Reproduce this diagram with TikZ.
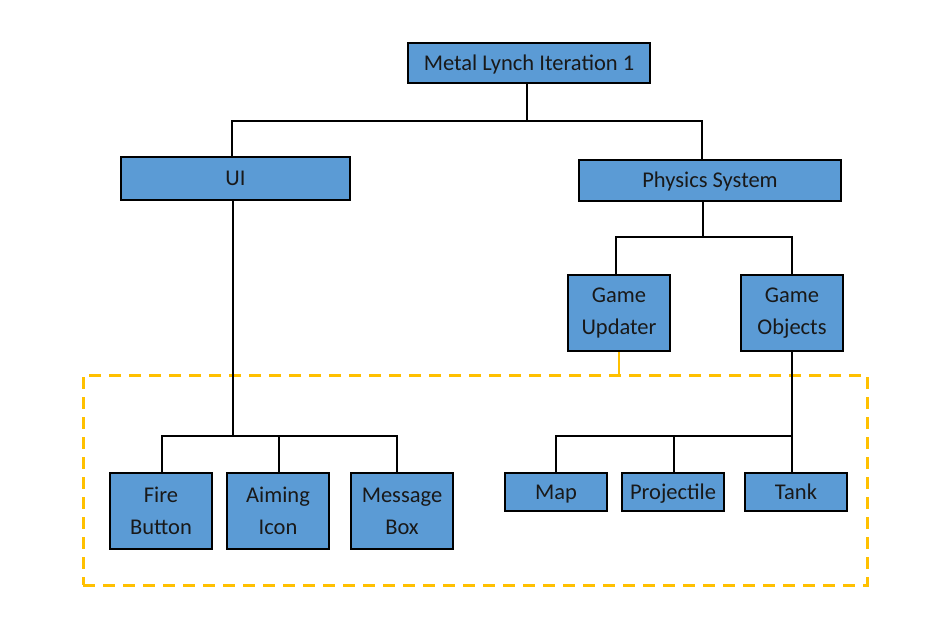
\documentclass[tikz,border=0pt]{standalone}
\usepackage{fontspec}
\setmainfont{Carlito}
\definecolor{boxblue}{HTML}{5B9BD5}
\definecolor{gold}{HTML}{FFC000}
\begin{document}
\begin{tikzpicture}[x=1pt,y=-1pt,
  box/.style={draw=black,line width=2.9pt,fill=boxblue,rectangle,inner sep=0pt,
    align=center,font=\fontsize{22.5}{32}\selectfont,text=black!90},
  single/.style={text height=14.5pt,text depth=0pt},
  conn/.style={draw=black,line width=2.4pt},
  grp/.style={draw=gold,line width=3pt,dash pattern=on 12pt off 8pt,rectangle,inner sep=0pt}]
\useasboundingbox (0,0) rectangle (929,618);
\node[grp,minimum width=784,minimum height=210] (grp) at (475,480) {};
\node[box,single,minimum width=242,minimum height=40] (top) at (529,63) {Metal Lynch Iteration 1};
\node[box,single,minimum width=229,minimum height=43] (ui) at (235.5,178.5) {UI};
\node[box,single,minimum width=262,minimum height=41] (phys) at (710,180.5) {Physics System};
\node[box,minimum width=102,minimum height=76] (gu) at (619,313) {Game\\Updater};
\node[box,minimum width=102,minimum height=76] (go) at (792,313) {Game\\Objects};
\node[box,minimum width=102,minimum height=76] (fire) at (161,511) {Fire\\Button};
\node[box,minimum width=102,minimum height=76] (aim) at (278,511) {Aiming\\Icon};
\node[box,minimum width=102,minimum height=76] (msg) at (402,511) {Message\\Box};
\node[box,single,minimum width=102,minimum height=38] (map) at (556,492) {Map};
\node[box,single,minimum width=102,minimum height=38] (proj) at (673,492) {Projectile};
\node[box,single,minimum width=102,minimum height=38] (tank) at (796,492) {Tank};
\coordinate (b1) at (527,121);
\coordinate (b2) at (703,237);
\coordinate (ub) at (233,436);
\coordinate (rb) at (792,436);
% top level
\draw[conn] (top.south -| b1) -- (b1) -| ([xshift=-3.5]ui.north);
\draw[conn] (b1) -| ([xshift=-8]phys.north);
% physics
\draw[conn] (phys.south -| b2) -- (b2) -| ([xshift=-3]gu.north);
\draw[conn] (b2) -| (go.north);
% UI
\draw[conn] (ui.south -| ub) -- (ub);
\draw[conn] ([xshift=1]fire.north) -- ([xshift=1]fire.north |- ub) -- ([xshift=-5]msg.north |- ub) -- ([xshift=-5]msg.north);
\draw[conn] ([xshift=1]aim.north) -- ([xshift=1]aim.north |- ub);
% game objects
\draw[conn] (go.south) -- (go.south |- tank.north);
\draw[conn] (map.north) -- (map.north |- rb) -- (rb);
\draw[conn] ([xshift=1]proj.north) -- ([xshift=1]proj.north |- rb);
% updater
\draw[draw=gold,line width=2.4pt] (gu.south) -- (gu.south |- grp.north);
\end{tikzpicture}
\end{document}
